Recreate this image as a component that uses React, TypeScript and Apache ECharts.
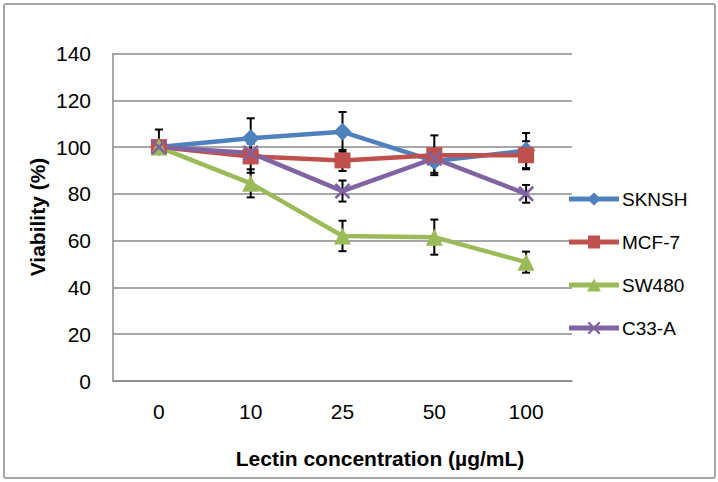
import React, { useEffect, useRef } from "react";
import * as echarts from "echarts";

const categories = ["0", "10", "25", "50", "100"];
const seriesNames = ["SKNSH", "MCF-7", "SW480", "C33-A"];
const sknsh = [100, 103.8, 106.5, 94, 98.5];
const mcf7 = [100, 96, 94.3, 96.5, 96.5];
const sw480 = [100, 84.5, 62, 61.5, 50.8];
const c33a = [100, 97.5, 81.2, 95.2, 80];
// error bar sizes (upper / lower)
const sknshErrUp = [7.5, 8.5, 8.5, 5, 7.5];
const sknshErrDown = [1, 8.5, 8.5, 5, 7.5];
const mcf7ErrUp = [2, 7, 4.5, 8.5, 6];
const mcf7ErrDown = [2, 7, 4.5, 8.5, 6];
const sw480ErrUp = [2, 6, 6.5, 7.5, 4.5];
const sw480ErrDown = [2, 6, 6.5, 7.5, 4.5];
const c33aErrUp = [2, 4, 4.5, 3, 3.8];
const c33aErrDown = [2, 4, 4.5, 3, 3.8];
const yTicks = [0, 20, 40, 60, 80, 100, 120, 140];

const colors = ["#4f81bd", "#c0504d", "#9bbb59", "#8064a2"];
const xPath =
  "path://M0,1.2 L1.2,0 L5,3.8 L8.8,0 L10,1.2 L6.2,5 L10,8.8 L8.8,10 L5,6.2 L1.2,10 L0,8.8 L3.8,5 Z";
const symbols = ["diamond", "rect", "triangle", xPath];
const symbolSizes = [18, 16, 17, 16];

// legend icons: 50 x 13 box, thick line + marker
const legendLine = "M0,4 H50 V9 H0 Z";
const legendIcons = [
  `path://${legendLine} M25,0 L32,6.5 L25,13 L18,6.5 Z`,
  `path://${legendLine} M19,0.5 H31 V12.5 H19 Z M19,0 H31 V13 H19 Z`,
  `path://${legendLine} M25,0 L32,13 H18 Z`,
  `path://${legendLine} M18.5,1.56 L20.06,0 L25,4.94 L29.94,0 L31.5,1.56 L26.56,6.5 L31.5,11.44 L29.94,13 L25,8.06 L20.06,13 L18.5,11.44 L23.44,6.5 Z`,
];

export default function App() {
  const ref = useRef<HTMLDivElement>(null);
  useEffect(() => {
    if (!ref.current) return;
    const chart = echarts.init(ref.current, null, { renderer: "svg" });
    const values = [sknsh, mcf7, sw480, c33a];
    const errsUp = [sknshErrUp, mcf7ErrUp, sw480ErrUp, c33aErrUp];
    const errsDown = [sknshErrDown, mcf7ErrDown, sw480ErrDown, c33aErrDown];
    const font = "'Liberation Sans', Arial, sans-serif";

    const lineSeries = seriesNames.map((name, i) => ({
      name,
      type: "line",
      data: values[i],
      symbol: symbols[i],
      symbolSize: symbolSizes[i],
      showAllSymbol: true,
      z: 3,
      lineStyle: { color: colors[i], width: 4.5 },
      itemStyle: { color: colors[i] },
    }));

    const errData: number[][] = [];
    values.forEach((vals, i) => {
      vals.forEach((v, j) => errData.push([j, v, errsUp[i][j], errsDown[i][j]]));
    });

    const errSeries = {
      type: "custom",
      name: "err",
      z: 1,
      silent: true,
      data: errData,
      renderItem: (params: any, api: any) => {
        const x = api.value(0);
        const v = api.value(1);
        const up = api.value(2);
        const down = api.value(3);
        const top = api.coord([x, v + up]);
        const bot = api.coord([x, v - down]);
        const cw = 4;
        const style = { stroke: "#000", lineWidth: 2 };
        return {
          type: "group",
          children: [
            { type: "line", shape: { x1: top[0], y1: top[1], x2: bot[0], y2: bot[1] }, style },
            { type: "line", shape: { x1: top[0] - cw, y1: top[1], x2: top[0] + cw, y2: top[1] }, style },
            { type: "line", shape: { x1: bot[0] - cw, y1: bot[1], x2: bot[0] + cw, y2: bot[1] }, style },
          ],
        };
      },
    };

    chart.setOption({
      animation: false,
      textStyle: { fontFamily: font },
      grid: { left: 113, right: 146, top: 53.5, bottom: 101, containLabel: false },
      xAxis: {
        type: "category",
        data: categories,
        boundaryGap: true,
        axisLine: { lineStyle: { color: "#8a8a8a", width: 1.5 } },
        axisTick: { show: false },
        axisLabel: { color: "#000", fontSize: 21, margin: 20, fontFamily: font },
      },
      yAxis: {
        type: "value",
        min: yTicks[0],
        max: yTicks[yTicks.length - 1],
        interval: 20,
        axisLine: { show: true, lineStyle: { color: "#8a8a8a", width: 1.5 } },
        axisTick: { show: false },
        axisLabel: { color: "#000", fontSize: 21, margin: 22, fontFamily: font },
        splitLine: { lineStyle: { color: "#8a8a8a", width: 1.5 } },
      },
      legend: {
        orient: "vertical",
        left: 569,
        top: 189,
        padding: 0,
        itemWidth: 50,
        itemHeight: 13,
        itemGap: 23,
        data: seriesNames.map((name, i) => ({ name, icon: legendIcons[i], itemStyle: { color: colors[i] } })),
        textStyle: { color: "#000", fontSize: 19, fontFamily: font, lineHeight: 20, padding: [0, 0, 0, -2] },
      },
      graphic: [
        {
          type: "rect",
          shape: { x: 4, y: 4, width: 711, height: 474, r: 2 },
          style: { fill: "none", stroke: "#a6a6a6", lineWidth: 2 },
          z: -10,
        },
        {
          type: "text",
          x: 380,
          y: 458,
          style: {
            text: "Lectin concentration (µg/mL)",
            font: `bold 21px ${font}`,
            fill: "#000",
            align: "center",
            verticalAlign: "middle",
          },
        },
        {
          type: "text",
          x: 37,
          y: 217,
          rotation: Math.PI / 2,
          style: {
            text: "Viability (%)",
            font: `bold 21px ${font}`,
            fill: "#000",
            align: "center",
            verticalAlign: "middle",
          },
        },
      ],
      series: [errSeries, ...lineSeries],
    });
    return () => chart.dispose();
  }, []);
  return (
    <div
      ref={ref}
      style={{ position: "absolute", left: 0, top: 0, width: 718, height: 482, background: "#fff" }}
    />
  );
}
